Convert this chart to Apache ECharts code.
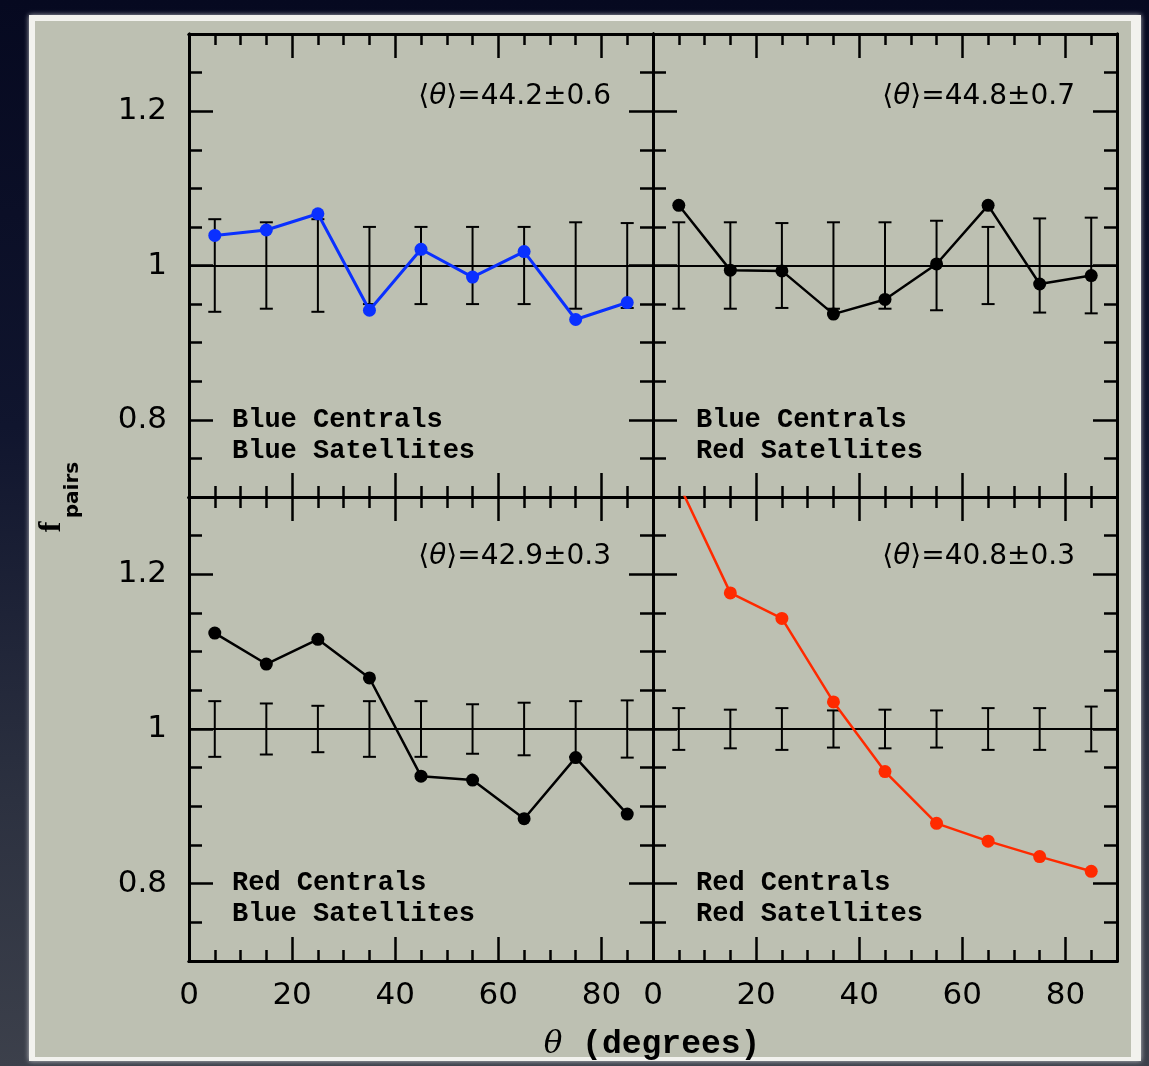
<!DOCTYPE html>
<html>
<head>
<meta charset="utf-8">
<script src="https://cdn.jsdelivr.net/npm/echarts@6/dist/echarts.min.js"></script>
<style>
  html, body { margin: 0; padding: 0; }
  body { background: linear-gradient(180deg, #060920 0%, #10152e 40%, #2c3140 75%, #3c404b 100%); }
  #chart { width: 1149px; height: 1066px; }
</style>
</head>
<body>
<div id="chart"></div>
<script>
// Bin centres in degrees
const theta = [5, 15, 25, 35, 45, 55, 65, 75, 85];

// f_pairs per bin for each central/satellite colour combination
const blueCenBlueSat = [1.039, 1.046, 1.067, 0.942, 1.021, 0.985, 1.018, 0.930, 0.952];
const blueCenRedSat  = [1.078, 0.994, 0.993, 0.937, 0.956, 1.002, 1.078, 0.976, 0.987];
const redCenBlueSat  = [1.124, 1.084, 1.116, 1.066, 0.939, 0.934, 0.884, 0.963, 0.890];
const redCenRedSat   = [1.317, 1.176, 1.143, 1.035, 0.945, 0.878, 0.855, 0.835, 0.816];

// Half-widths of the error bars around f_pairs = 1
const blueCenBlueSatErr = [0.060, 0.056, 0.060, 0.050, 0.050, 0.050, 0.050, 0.056, 0.055];
const blueCenRedSatErr  = [0.056, 0.056, 0.055, 0.056, 0.056, 0.058, 0.050, 0.061, 0.062];
const redCenBlueSatErr  = [0.036, 0.033, 0.030, 0.036, 0.036, 0.032, 0.034, 0.036, 0.037];
const redCenRedSatErr   = [0.027, 0.025, 0.027, 0.024, 0.025, 0.024, 0.027, 0.027, 0.029];

// Mean angle per panel
const meanTheta = ['44.2±0.6', '44.8±0.7', '42.9±0.3', '40.8±0.3'];
const panelNames = [
  ['Blue Centrals', 'Blue Satellites'],
  ['Blue Centrals', 'Red Satellites'],
  ['Red Centrals', 'Blue Satellites'],
  ['Red Centrals', 'Red Satellites']
];

// Tick positions
const xMajor = [0, 20, 40, 60, 80];
const xMinor = [5, 10, 15, 25, 30, 35, 45, 50, 55, 65, 70, 75, 85];
const yMajor = [0.8, 1.0, 1.2];
const yMinor = [0.75, 0.85, 0.9, 0.95, 1.05, 1.1, 1.15, 1.25];

const panelValues = [blueCenBlueSat, blueCenRedSat, redCenBlueSat, redCenRedSat];
const panelErrors = [blueCenBlueSatErr, blueCenRedSatErr, redCenBlueSatErr, redCenRedSatErr];
const panelColors = ['#0a30ff', '#000000', '#000000', '#ff2a00'];

const chart = echarts.init(document.getElementById('chart'), null, { renderer: 'canvas' });

const grids = [
  { left: 189, top: 34, width: 464, height: 463 },
  { left: 653, top: 34, width: 464, height: 463 },
  { left: 189, top: 497, width: 464, height: 464 },
  { left: 653, top: 497, width: 464, height: 464 }
];

const tickFont = { fontFamily: 'DejaVu Sans', fontSize: 31, color: '#000' };
const frameLine = { show: true, onZero: false, lineStyle: { color: '#000', width: 3 } };

const xAxes = [];
const yAxes = [];
const series = [];

grids.forEach((g, gi) => {
  const isBottom = gi >= 2;
  const isLeft = gi % 2 === 0;
  const xBase = xAxes.length;
  const yBase = yAxes.length;

  [['bottom', xMajor, 24, isBottom], ['bottom', xMinor, 11, false],
   ['top', xMajor, 24, false], ['top', xMinor, 11, false]].forEach(([pos, vals, len, lab]) => {
    xAxes.push({
      type: 'value', gridIndex: gi, position: pos, min: 0, max: 90,
      axisLine: frameLine,
      axisTick: { show: true, inside: true, length: len, customValues: vals,
                  lineStyle: { color: '#000', width: 2.5 } },
      axisLabel: { show: lab, customValues: xMajor, margin: 19, showMinLabel: true, ...tickFont },
      splitLine: { show: false }
    });
  });

  [['left', yMajor, 24, isLeft], ['left', yMinor, 13, false],
   ['right', yMajor, 24, false], ['right', yMinor, 13, false]].forEach(([pos, vals, len, lab]) => {
    yAxes.push({
      type: 'value', gridIndex: gi, position: pos, min: 0.7, max: 1.3,
      axisLine: frameLine,
      axisTick: { show: true, inside: true, length: len, customValues: vals,
                  lineStyle: { color: '#000', width: 2.5 } },
      axisLabel: { show: lab, customValues: yMajor, margin: 22, ...tickFont },
      splitLine: { show: false }
    });
  });

  // Error bars about unity
  series.push({
    type: 'custom',
    xAxisIndex: xBase, yAxisIndex: yBase,
    z: 3,
    encode: { x: 0, y: [1, 2] },
    data: theta.map((t, i) => [t, 1 - panelErrors[gi][i], 1 + panelErrors[gi][i]]),
    renderItem: (params, api) => {
      const x = api.value(0);
      const top = api.coord([x, api.value(2)]);
      const bot = api.coord([x, api.value(1)]);
      const hw = 6.5;
      const st = { stroke: '#000', lineWidth: 2 };
      return {
        type: 'group',
        children: [
          { type: 'line', shape: { x1: top[0], y1: top[1], x2: bot[0], y2: bot[1] }, style: st },
          { type: 'line', shape: { x1: top[0] - hw, y1: top[1], x2: top[0] + hw, y2: top[1] }, style: st },
          { type: 'line', shape: { x1: bot[0] - hw, y1: bot[1], x2: bot[0] + hw, y2: bot[1] }, style: st }
        ]
      };
    }
  });

  // Measured f_pairs
  series.push({
    type: 'line',
    xAxisIndex: xBase, yAxisIndex: yBase,
    z: 5,
    clip: true,
    data: theta.map((t, i) => [t, panelValues[gi][i]]),
    symbol: 'circle',
    symbolSize: 13,
    showAllSymbol: true,
    lineStyle: { color: panelColors[gi], width: gi === 0 ? 3 : 2.5 },
    itemStyle: { color: panelColors[gi] },
    animation: false,
    markLine: {
      silent: true, symbol: 'none', label: { show: false }, animation: false,
      lineStyle: { color: '#000', width: 2, type: 'solid' },
      data: [{ yAxis: 1 }]
    }
  });
});

// Paper sheet, annotations and axis titles
const graphics = [
  { type: 'rect', z: -10, shape: { x: 29, y: 15, width: 1112, height: 1046 },
    style: { fill: '#f2f2ee', shadowBlur: 5, shadowColor: 'rgba(255,255,255,0.7)' } },
  { type: 'rect', z: -9, shape: { x: 35, y: 21, width: 1096, height: 1036 },
    style: { fill: '#bdc0b2' } }
];

const meanPos = [[611, 97], [1075, 97], [611, 557], [1075, 557]];
const namePos = [[232, 420], [696, 420], [232, 883], [696, 883]];

meanTheta.forEach((m, i) => {
  graphics.push({
    type: 'text', z: 20, x: meanPos[i][0], y: meanPos[i][1],
    style: {
      text: '{a|⟨}{t|θ}{a|⟩=' + m + '}',
      align: 'right', verticalAlign: 'middle',
      rich: {
        a: { fontFamily: 'DejaVu Sans', fontSize: 28, fill: '#000' },
        t: { fontFamily: 'DejaVu Sans', fontStyle: 'italic', fontSize: 28, fill: '#000' }
      }
    }
  });
  panelNames[i].forEach((line, li) => {
    graphics.push({
      type: 'text', z: 20, x: namePos[i][0], y: namePos[i][1] + li * 31,
      style: {
        text: line, align: 'left', verticalAlign: 'middle',
        fontFamily: 'Liberation Mono', fontWeight: 'bold', fontSize: 27, fill: '#000'
      }
    });
  });
});

graphics.push(
  { type: 'text', z: 20, x: 52, y: 527, rotation: Math.PI / 2,
    style: { text: 'f', align: 'center', verticalAlign: 'middle',
             fontFamily: 'Liberation Serif', fontWeight: 'bold', fontSize: 32, fill: '#000' } },
  { type: 'text', z: 20, x: 73, y: 490, rotation: Math.PI / 2,
    style: { text: 'pairs', align: 'center', verticalAlign: 'middle',
             fontFamily: 'DejaVu Sans', fontWeight: 'bold', fontSize: 20, fill: '#000' } },
  { type: 'text', z: 20, x: 652, y: 1045,
    style: {
      text: '{t|θ}{m| (degrees)}', align: 'center', verticalAlign: 'middle',
      rich: {
        t: { fontFamily: 'DejaVu Serif', fontStyle: 'italic', fontSize: 31, fill: '#000' },
        m: { fontFamily: 'Liberation Mono', fontWeight: 'bold', fontSize: 33, fill: '#000' }
      }
    } }
);

chart.setOption({
  backgroundColor: 'transparent',
  animation: false,
  grid: grids,
  xAxis: xAxes,
  yAxis: yAxes,
  series: series,
  graphic: { elements: graphics }
});
</script>
</body>
</html>
